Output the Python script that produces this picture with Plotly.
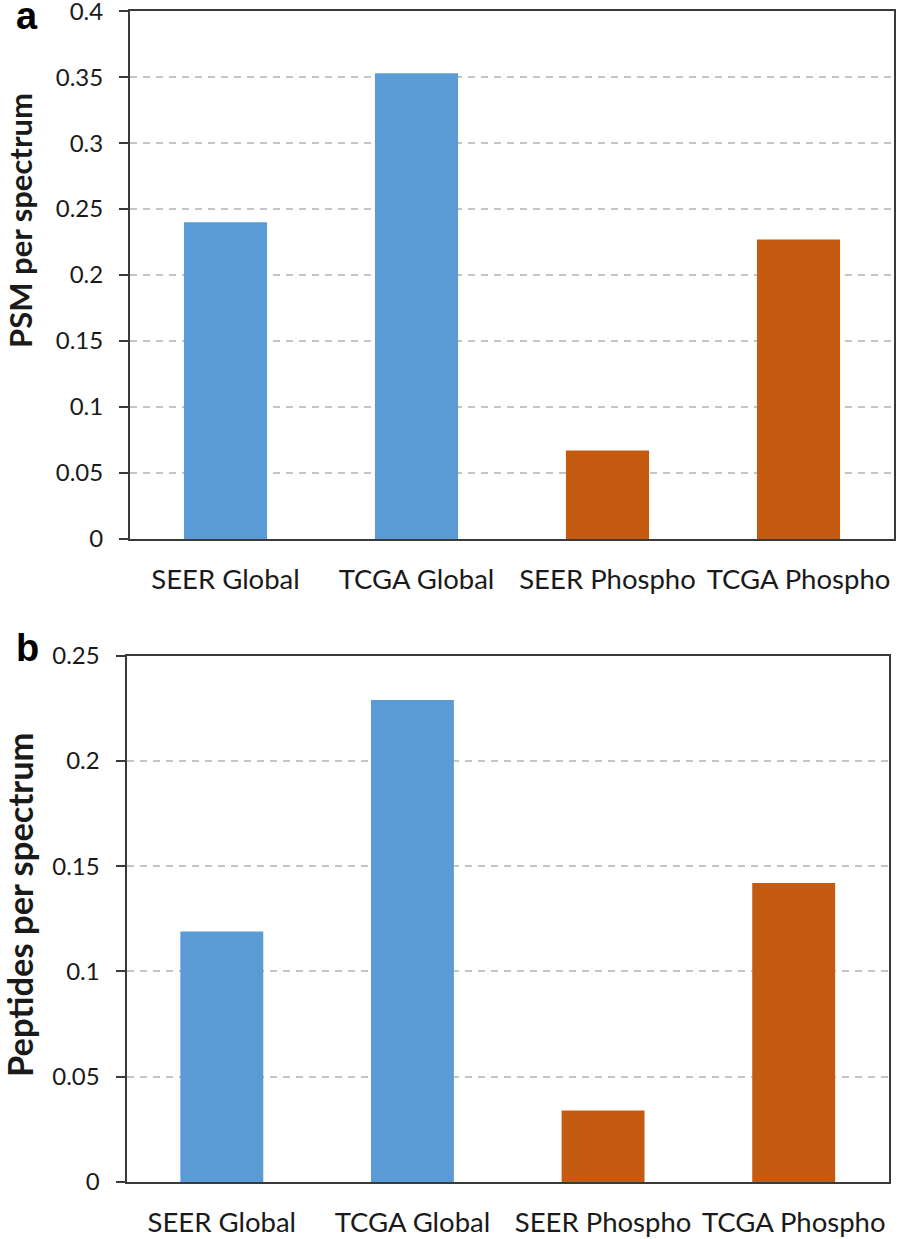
import plotly.graph_objects as go

categories = ["SEER Global", "TCGA Global", "SEER Phospho", "TCGA Phospho"]
psm_per_spectrum = [0.240, 0.353, 0.067, 0.227]
peptides_per_spectrum = [0.119, 0.229, 0.034, 0.142]
bar_colors = ["#5B9BD5", "#5B9BD5", "#C55A11", "#C55A11"]
psm_ticks = [0, 0.05, 0.1, 0.15, 0.2, 0.25, 0.3, 0.35, 0.4]
pep_ticks = [0, 0.05, 0.1, 0.15, 0.2, 0.25]

W, H = 898, 1239
FONT = "Lato"
TXT = "#1a1a1a"
FRAME = "#3a3a3a"

fig = go.Figure()
fig.add_trace(go.Bar(x=categories, y=psm_per_spectrum, marker=dict(color=bar_colors, line=dict(width=0)),
                     xaxis="x", yaxis="y", showlegend=False))
fig.add_trace(go.Bar(x=categories, y=peptides_per_spectrum, marker=dict(color=bar_colors, line=dict(width=0)),
                     xaxis="x2", yaxis="y2", showlegend=False))

axis_common_y = dict(
    showline=True, linecolor=FRAME, linewidth=2, mirror=True,
    ticks="outside", ticklen=9, tickcolor=FRAME, tickwidth=2,
    showgrid=True, gridcolor="#c4c4c4", griddash="7px,6px", gridwidth=1.5,
    tickfont=dict(family=FONT, size=24, color=TXT),
    ticklabelstandoff=11, tickmode="array", ticklabeloverflow="allow",
    zeroline=False, automargin=False,
)
axis_common_x = dict(
    showline=True, linecolor=FRAME, linewidth=2, mirror=True,
    ticks="", showgrid=False,
    tickfont=dict(family=FONT, size=27.5, color=TXT),
    ticklabelstandoff=15, automargin=False, ticklabeloverflow="allow",
)

fig.update_layout(
    width=W, height=H,
    margin=dict(l=0, r=0, t=0, b=0),
    paper_bgcolor="white", plot_bgcolor="white",
    bargap=0.565,
    xaxis=dict(domain=[130 / W, 894 / W], anchor="y", **axis_common_x),
    yaxis=dict(domain=[1 - 539 / H, 1 - 11 / H], anchor="x", range=[0, 0.4001],
               tickvals=psm_ticks, ticktext=[f"{v:g}" for v in psm_ticks], **axis_common_y),
    xaxis2=dict(domain=[126.5 / W, 889 / W], anchor="y2", **axis_common_x),
    yaxis2=dict(domain=[1 - 1182 / H, 1 - 655.7 / H], anchor="x2", range=[0, 0.25001],
                tickvals=pep_ticks, ticktext=[f"{v:g}" for v in pep_ticks], **axis_common_y),
    annotations=[
        dict(text="<b>PSM per spectrum</b>", textangle=-90, x=20 / W, y=1 - 221 / H,
             xanchor="center", yanchor="middle",
             xref="paper", yref="paper", showarrow=False, font=dict(family=FONT, size=31, color=TXT)),
        dict(text="<b>Peptides per spectrum</b>", textangle=-90, x=19 / W, y=1 - 905 / H,
             xanchor="center", yanchor="middle",
             xref="paper", yref="paper", showarrow=False, font=dict(family=FONT, size=34.5, color=TXT)),
        dict(text="<b>a</b>", x=27 / W, y=1 - 16 / H, xanchor="center", yanchor="middle",
             xref="paper", yref="paper",
             showarrow=False, font=dict(family="Liberation Sans", size=38, color="black")),
        dict(text="<b>b</b>", x=27 / W, y=1 - 648 / H, xanchor="center", yanchor="middle",
             xref="paper", yref="paper",
             showarrow=False, font=dict(family="Liberation Sans", size=38, color="black")),
    ],
)

fig.write_html("out.html", config={"displayModeBar": False},
               post_script="document.body.style.margin='0';")
